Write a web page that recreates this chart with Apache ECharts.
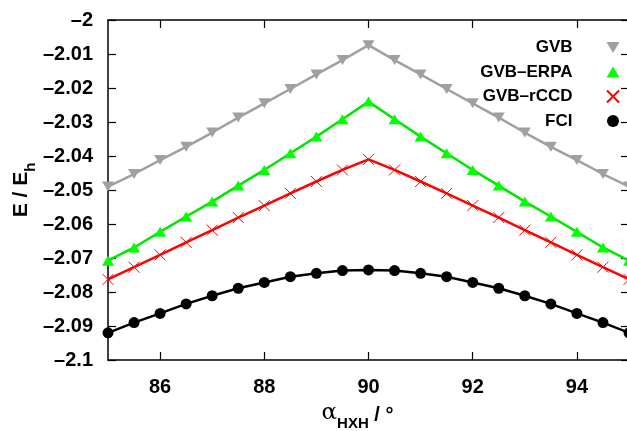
<!DOCTYPE html>
<html><head><meta charset="utf-8">
<script src="https://cdn.jsdelivr.net/npm/echarts@6/dist/echarts.min.js"></script>
<style>html,body{margin:0;padding:0;background:#fff}#c{width:627px;height:431px}</style>
</head><body><div id="c"></div>
<script>
const angles = [85,85.5,86,86.5,87,87.5,88,88.5,89,89.5,90,90.5,91,91.5,92,92.5,93,93.5,94,94.5,95];
const gvb  = [-2.0490,-2.0453,-2.0412,-2.0373,-2.0331,-2.0287,-2.0245,-2.0203,-2.0160,-2.0118,-2.0074,-2.0118,-2.0160,-2.0203,-2.0245,-2.0287,-2.0331,-2.0373,-2.0412,-2.0453,-2.0490];
const erpa = [-2.0708,-2.0669,-2.0623,-2.0578,-2.0534,-2.0487,-2.0441,-2.0392,-2.0343,-2.0292,-2.0240,-2.0292,-2.0343,-2.0392,-2.0441,-2.0487,-2.0534,-2.0578,-2.0623,-2.0669,-2.0708];
const rccd = [-2.0763,-2.0727,-2.0691,-2.0654,-2.0618,-2.0581,-2.0546,-2.0510,-2.0475,-2.0441,-2.0410,-2.0441,-2.0475,-2.0510,-2.0546,-2.0581,-2.0618,-2.0654,-2.0691,-2.0727,-2.0763];
const fci  = [-2.0920,-2.0890,-2.0863,-2.0835,-2.0811,-2.0789,-2.0772,-2.0755,-2.0745,-2.0737,-2.0735,-2.0737,-2.0745,-2.0755,-2.0772,-2.0789,-2.0811,-2.0835,-2.0863,-2.0890,-2.0920];
const xTicks = [86,88,90,92,94];
const seriesNames = ['GVB','GVB\u2013ERPA','GVB\u2013rCCD','FCI'];

const FONT = '"Liberation Sans",Arial,sans-serif';
const triDown = 'path://M0,0L12,0L6,10Z';
const triUp = 'path://M6,0L12,10L0,10Z';
const cross = 'path://M0,0L10,10M0,10L10,0';
const pair = arr => angles.map((a,i)=>[a,arr[i]]);
const fmtY = v => String(parseFloat(v.toFixed(2))).replace('-', '\u2013');

const chart = echarts.init(document.getElementById('c'), null, {renderer:'canvas'});
const axisLine = {show:true, lineStyle:{color:'#000', width:1.5}};
chart.setOption({
  animation:false,
  backgroundColor:'#fff',
  grid:{left:108, top:20, width:521, height:340, outerBoundsMode:'none'},
  legend:{
    orient:'vertical', align:'right', right:2, top:34, itemGap:7.5,
    itemWidth:13, itemHeight:12,
    textStyle:{fontFamily:FONT, fontWeight:'bold', fontSize:17, color:'#000', padding:[0,29,0,0]},
    data:[
      {name:seriesNames[0], icon:triDown},
      {name:seriesNames[1], icon:triUp},
      {name:seriesNames[2], icon:cross},
      {name:seriesNames[3], icon:'circle'}
    ]
  },
  xAxis:[{
    type:'value', min:85, max:95, position:'bottom',
    axisLine:axisLine,
    axisTick:{show:true, inside:true, length:8, lineStyle:{color:'#000', width:1.2}, customValues:xTicks},
    axisLabel:{fontFamily:FONT, fontWeight:'bold', fontSize:20, color:'#000', margin:17, customValues:xTicks},
    splitLine:{show:false},
    name:'{a|\u03b1}{s|HXH}{b| / \u00b0}', nameLocation:'middle', nameGap:42, nameMoveOverlap:false,
    nameTextStyle:{padding:[0,22,0,0], rich:{
      a:{fontFamily:'"DejaVu Serif",serif', fontSize:23, color:'#000', verticalAlign:'bottom'},
      s:{fontFamily:FONT, fontWeight:'bold', fontSize:15, color:'#000', verticalAlign:'bottom', padding:[0,0,-6,0]},
      b:{fontFamily:FONT, fontWeight:'bold', fontSize:20, color:'#000', verticalAlign:'bottom'}
    }}
  },{
    type:'value', min:85, max:95, position:'top',
    axisLine:axisLine,
    axisTick:{show:true, inside:true, length:8, lineStyle:{color:'#000', width:1.2}, customValues:xTicks},
    axisLabel:{show:false}, splitLine:{show:false}
  }],
  yAxis:[{
    type:'value', min:-2.1, max:-2, interval:0.01, position:'left',
    axisLine:axisLine,
    axisTick:{show:true, inside:true, length:8, lineStyle:{color:'#000', width:1.2}},
    axisLabel:{fontFamily:FONT, fontWeight:'bold', fontSize:20, color:'#000', margin:15, formatter:fmtY},
    splitLine:{show:false},
    name:'{e|E / E}{h|h}', nameLocation:'middle', nameGap:76, nameRotate:90, nameMoveOverlap:false,
    nameTextStyle:{rich:{
      e:{fontFamily:FONT, fontWeight:'bold', fontSize:21, color:'#000', verticalAlign:'bottom'},
      h:{fontFamily:FONT, fontWeight:'bold', fontSize:15, color:'#000', verticalAlign:'bottom', padding:[0,0,-6,0]}
    }}
  },{
    type:'value', min:-2.1, max:-2, interval:0.01, position:'right',
    axisLine:axisLine,
    axisTick:{show:true, inside:true, length:8, lineStyle:{color:'#000', width:1.2}},
    axisLabel:{show:false}, splitLine:{show:false}
  }],
  series:[
    {name:seriesNames[0], type:'line', data:pair(gvb), symbol:triDown, symbolSize:[12,10], showAllSymbol:true,
     color:'#a0a0a0', lineStyle:{color:'#a0a0a0', width:2.5}, itemStyle:{color:'#a0a0a0'}},
    {name:seriesNames[1], type:'line', data:pair(erpa), symbol:triUp, symbolSize:[12,10], showAllSymbol:true,
     color:'#00e600', lineStyle:{color:'#00e600', width:2.5}, itemStyle:{color:'#00ff00'}},
    {name:seriesNames[2], type:'line', data:pair(rccd), symbol:cross, symbolSize:11, showAllSymbol:true,
     color:'#ff0000', lineStyle:{color:'#ff0000', width:2.5}, itemStyle:{color:'#ff0000', borderColor:'#ff0000', borderWidth:1}},
    {name:seriesNames[3], type:'line', data:pair(fci), symbol:'circle', symbolSize:11, showAllSymbol:true,
     color:'#000', lineStyle:{color:'#000', width:2.5}, itemStyle:{color:'#000'}}
  ]
});
</script></body></html>
